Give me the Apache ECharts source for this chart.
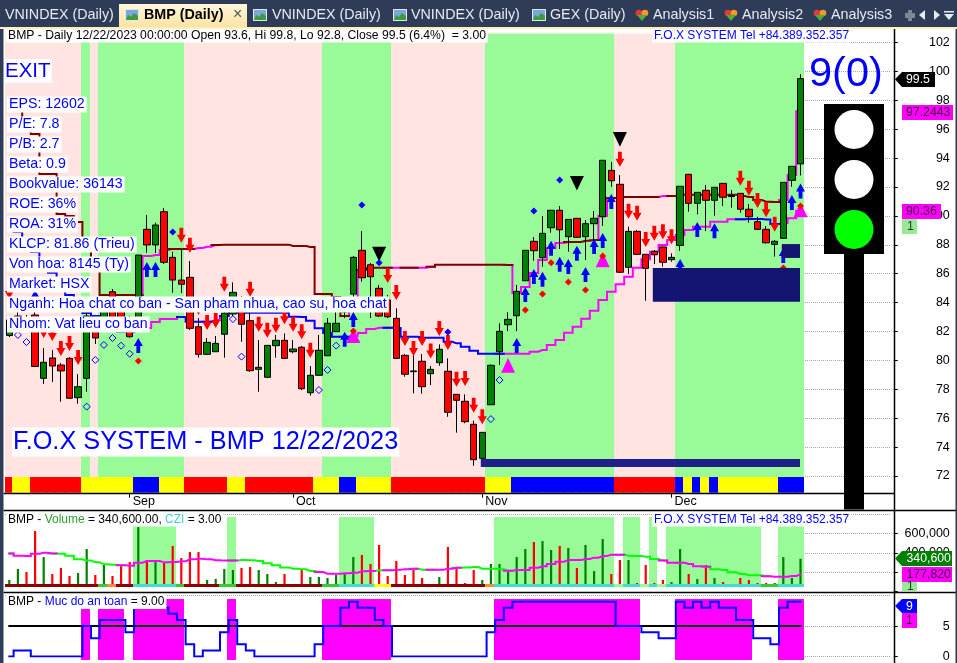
<!DOCTYPE html>
<html><head><meta charset="utf-8">
<style>html,body{margin:0;padding:0;background:#fff}#c{width:957px;height:663px}</style>
<script src="https://cdn.jsdelivr.net/npm/echarts@6/dist/echarts.min.js"></script>
</head><body><div id="c"></div>
<script>
const dates=['08-14','08-15','08-16','08-17','08-18','08-21','08-22','08-23','08-24','08-25','08-28','08-29','08-30','08-31','09-01','09-06','09-07','09-08','09-11','09-12','09-13','09-14','09-15','09-18','09-19','09-20','09-21','09-22','09-25','09-26','09-27','09-28','09-29','10-02','10-03','10-04','10-05','10-06','10-09','10-10','10-11','10-12','10-13','10-16','10-17','10-18','10-19','10-20','10-23','10-24','10-25','10-26','10-27','10-30','10-31','11-01','11-02','11-03','11-06','11-07','11-08','11-09','11-10','11-13','11-14','11-15','11-16','11-17','11-20','11-21','11-22','11-23','11-24','11-27','11-28','11-29','11-30','12-01','12-04','12-05','12-06','12-07','12-08','12-11','12-12','12-13','12-14','12-15','12-18','12-19','12-20','12-21','12-22'];
const monthNames={'09':'Sep','10':'Oct','11':'Nov','12':'Dec'};
const opens=[81.72,83.07,82.93,83.14,78.76,80.17,79.68,80.14,77.42,78.76,82.66,82.17,84.75,83.63,82.80,82.80,89.07,87.99,90.29,87.13,85.56,85.75,82.33,80.42,80.60,81.81,83.21,84.18,82.75,79.38,78.83,81.02,81.39,80.60,80.91,77.76,78.97,80.32,81.99,83.35,84.59,87.62,86.62,84.99,84.18,82.91,80.35,79.22,79.94,79.08,79.84,79.25,77.65,77.17,75.58,73.22,76.93,80.60,82.47,83.09,85.51,88.24,87.11,89.18,90.39,88.56,89.83,88.56,89.46,89.94,93.15,92.19,86.44,88.93,87.34,87.55,87.85,86.97,87.96,92.88,90.87,91.77,91.08,92.25,91.34,91.56,90.46,89.60,89.07,88.03,88.45,92.46,93.6];
const closes=[82.80,82.52,82.24,79.58,79.87,79.61,79.27,77.38,78.18,83.07,81.55,83.42,82.93,82.66,81.64,87.29,87.99,89.37,86.79,85.56,85.27,82.22,80.42,81.25,81.18,83.28,84.71,82.50,79.29,79.52,81.04,81.39,80.14,80.79,78.04,78.97,80.70,82.57,82.57,84.04,87.13,85.72,85.79,83.07,83.02,80.14,79.04,79.27,78.18,79.38,80.77,76.41,77.24,75.76,73.13,75.02,79.66,82.01,82.84,84.78,87.62,87.59,88.79,90.39,89.04,89.76,88.52,89.46,89.83,93.85,92.43,86.10,88.93,87.34,86.37,87.31,86.79,87.13,92.05,90.87,91.63,91.08,91.98,91.29,91.41,90.46,89.94,89.07,88.14,88.24,92.32,93.43,99.5];
const lows=[81.62,82.31,82.10,79.54,78.37,78.50,77.14,77.33,77.00,77.83,81.13,81.96,82.66,82.24,81.55,82.45,87.45,87.43,86.67,84.68,84.66,82.10,80.19,80.37,80.58,80.19,83.07,81.29,79.20,77.83,78.78,80.19,80.10,80.49,77.95,77.56,78.92,80.30,81.96,82.93,82.59,85.45,82.93,83.00,82.93,80.10,78.87,77.72,77.70,78.30,79.63,76.10,75.00,75.65,72.71,73.18,76.91,79.68,82.03,82.03,85.49,86.90,86.48,88.84,87.71,87.52,88.47,86.95,88.33,89.30,92.02,86.05,85.98,87.29,84.13,86.67,86.48,86.83,87.59,90.29,90.11,88.95,90.01,90.68,90.57,90.22,89.53,89.02,88.09,87.18,88.40,92.02,92.8];
const highs=[82.93,83.35,83.14,83.83,80.86,80.72,79.82,80.23,79.06,83.35,82.93,83.83,84.94,84.18,83.07,87.29,90.06,89.53,90.55,87.52,87.64,86.88,82.93,81.55,81.69,84.18,85.40,84.46,83.37,81.41,81.06,81.76,81.87,81.41,81.00,79.61,81.76,82.93,83.49,84.39,87.22,88.95,86.74,85.22,84.53,83.60,80.44,80.44,80.44,79.61,81.11,80.14,77.67,77.65,75.83,75.04,79.72,82.57,83.33,85.22,87.64,88.54,89.99,90.41,90.68,89.78,89.85,89.72,90.34,93.87,93.73,92.83,89.25,89.02,87.36,87.64,87.88,87.41,92.07,92.90,91.65,92.14,92.00,92.28,91.79,91.58,90.82,89.94,89.30,88.33,92.34,93.44,99.8];
const upperLine=[98.02,97.33,96.29,95.67,92.90,92.90,90.13,89.99,89.58,87.99,86.81,84.53,84.53,84.53,84.53,84.53,87.22,87.29,87.64,87.71,87.71,87.71,87.78,87.87,87.99,88.01,88.01,88.01,88.01,88.01,88.01,88.01,88.01,87.92,87.92,87.85,84.59,84.59,84.39,83.07,84.18,86.26,86.41,86.41,86.41,86.41,86.41,86.41,86.41,86.48,86.62,86.62,86.62,86.62,86.62,86.62,86.62,86.62,86.60,84.66,85.08,86.05,86.95,87.78,88.12,88.19,88.19,88.28,88.33,89.99,91.24,91.31,91.31,91.31,91.31,91.31,91.38,91.38,91.47,91.47,91.47,91.47,91.47,91.47,91.47,91.38,91.31,91.10,90.98,90.96,91.10,92.83,97.24];
const upperDarkRanges=[[0,15],[20,21],[25,39],[42,44],[47,47],[50,58],[66,68],[71,75],[78,89]];
const lowerLine=[89.09,88.88,87.99,87.50,86.81,86.07,85.36,84.53,83.97,83.28,83.07,82.80,82.38,81.99,81.99,82.10,82.24,82.66,82.86,82.86,83.00,82.68,82.68,82.68,82.80,83.07,83.30,83.30,83.30,83.30,83.30,83.30,83.30,83.02,83.00,82.75,82.22,81.90,81.64,81.64,81.69,81.90,82.17,82.26,82.26,82.24,81.64,81.64,81.57,81.57,81.57,81.29,81.18,80.95,80.67,80.46,80.46,80.46,80.46,80.46,80.46,80.60,80.72,81.07,81.41,81.92,82.33,82.89,83.44,84.18,84.75,85.27,85.79,86.41,87.00,87.52,87.99,88.33,88.68,89.02,89.25,89.25,89.60,89.60,89.76,89.76,89.78,89.78,89.75,89.44,89.51,89.83,90.36];
const lowerBlueRanges=[[0,14],[21,23],[26,39],[45,57],[86,89]];
const sellArrows=[[0,84.25],[4,81.55],[5,81.34],[6,80.30],[7,80.65],[8,79.68],[20,88.14],[21,87.45],[22,83.14],[23,82.10],[24,82.24],[25,84.75],[28,84.41],[29,81.99],[30,81.57],[31,81.92],[32,82.50],[33,81.99],[34,81.46],[35,80.19],[44,85.36],[45,84.18],[46,81.0],[47,80.30],[48,81.0],[49,80.14],[50,81.69],[51,80.72],[52,78.18],[53,78.23],[54,76.38],[55,75.58],[71,93.40],[72,89.81],[73,89.67],[74,87.85],[75,88.28],[76,88.38],[77,88.03],[85,92.09],[86,91.40],[87,90.55],[88,89.90],[89,88.91]];
const buyArrows=[[3,84.87],[15,81.55],[16,86.81],[17,86.81],[39,81.99],[40,83.35],[59,81.55],[60,85.08],[61,86.32],[62,86.14],[63,88.28],[64,87.18],[65,87.02],[66,87.94],[67,86.46],[68,88.40],[69,88.82],[70,91.51],[78,87.02],[80,89.58],[82,89.49],[90,87.78],[91,91.44],[92,92.25]];
const pinkTriangles=[[40,81.71],[58,79.65],[69,86.95],[92,90.41]];
const blackTriangles=[[43,87.36],[66,92.26],[71,95.29]];
const redDots=[[15,79.96],[40,82.03],[60,83.49],[62,84.59],[63,86.76],[65,85.42],[67,84.87],[69,87.22],[90,86.39],[92,90.69]];
const blueDots=[[19,88.88],[41,90.75],[43,86.76],[51,81.96],[61,90.34],[64,92.48]];
const hollowDots=[[1,81.76],[2,81.27],[9,76.80],[10,80.03],[11,81.07],[12,81.55],[13,81.02],[14,80.46],[26,82.86],[27,80.26],[36,77.95],[37,79.34],[38,81.02],[56,75.94],[57,78.64]];
const priceBoxes=[[55,92,72.62,73.18,'#20208c'],[75,92,84.06,86.39,'#141473'],[90,92,87.09,88.05,'#141473']];
const mainGreenRanges=[[9,9],[11,20],[37,44],[56,70],[78,92]];
const signalRibbon=[['r',0,0],['y',1,2],['r',3,8],['y',9,14],['b',15,17],['y',18,20],['r',21,25],['y',26,27],['r',28,35],['y',36,38],['b',39,40],['y',41,44],['r',45,55],['y',56,58],['b',59,70],['r',71,77],['b',78,78],['y',79,79],['b',80,80],['y',81,81],['b',82,82],['y',83,89],['b',90,92]];
const volume=[120000,234000,203000,628000,358000,182000,245000,162000,193000,441000,172000,276000,162000,265000,307000,669000,327000,307000,296000,473000,348000,410000,410000,120000,131000,234000,224000,245000,255000,224000,182000,99000,182000,79000,234000,151000,151000,141000,172000,182000,358000,379000,286000,483000,162000,317000,172000,224000,141000,68000,151000,462000,255000,89000,224000,120000,286000,286000,213000,358000,441000,514000,524000,431000,473000,452000,245000,483000,213000,545000,182000,327000,327000,89000,276000,89000,120000,99000,441000,182000,131000,276000,141000,99000,79000,141000,120000,89000,89000,89000,358000,141000,340600];
const volumeSide=['ggrrgrrrgg','rgrrrgrgrr','rrrggggrrg','ggrgrggggg','grrrrrrrrg','grrrrggggg','grggrgrggg','rrgrrrrggr','grgrrrrrrg','ggg'].join('');
const volumeAvg=[396000,372000,369000,393000,403000,396000,393000,372000,334000,321000,303000,283000,279000,272000,269000,300000,317000,317000,303000,307000,314000,334000,341000,334000,324000,321000,321000,327000,324000,317000,293000,272000,251000,238000,231000,213000,203000,186000,186000,189000,196000,210000,213000,220000,220000,227000,231000,238000,227000,227000,227000,238000,248000,251000,255000,238000,238000,231000,217000,224000,224000,248000,262000,286000,310000,327000,327000,338000,352000,369000,383000,383000,372000,369000,362000,338000,321000,300000,300000,286000,262000,258000,231000,224000,200000,182000,169000,169000,158000,155000,155000,162000,177820];
const volumeAvgRising=[[1,4],[5,5],[14,17],[18,23],[24,26],[37,42],[45,47],[50,52],[59,71],[77,78],[80,81],[89,92]];
const volumeGreenRanges=[[15,19],[26,26],[39,42],[57,70],[72,73],[75,75],[77,87],[90,92]];
const cziRibbon=[['d',0,10],['g',11,11],['o',12,12],['d',13,14],['t',15,19],['g',20,20],['d',21,24],['g',25,26],['d',27,36],['g',37,38],['t',39,42],['y',43,44],['d',45,55],['o',56,56],['t',57,70],['p',71,71],['t',72,73],['p',74,74],['t',75,75],['p',76,76],['t',77,87],['g',88,89],['t',90,92]];
const safety=[0,1,1,0,0,0,0,0,0,5,3,6,6,6,4,8,8,8,8,7,6,2,0,1,1,4,6,2,1,0,0,0,0,0,0,0,2,5,5,8,9,8,8,6,5,0,0,0,0,0,0,0,0,0,0,0,4,6,8,9,9,9,9,9,9,9,9,9,9,9,9,5,5,5,4,4,3,3,9,8,9,8,9,8,8,6,6,3,3,2,8,9,9];
const safetyLevel=dates.map(()=>5);
const safetyZoneRanges=[[9,9],[11,13],[15,20],[26,26],[37,44],[57,73],[78,86],[90,92]];

const PAD=10,BAND=8.6,LEFT=5;
const cats=dates.concat(Array(PAD).fill(''));
const W=(dates.length+PAD)*BAND;
const PINK='#ffe4e1',GREEN='#98fb98',MAG='#ff00ff';
const inR=(i,rs)=>rs.some(r=>i>=r[0]&&i<=r[1]);
const F='"Liberation Sans", Arial, sans-serif';

const palette={r:'#ff0000',y:'#ffff00',b:'#0000ff',d:'#8b0000',g:'#32cd32',o:'#ff8c32',t:'#40e0d0',p:'#98fb98'};
function fromRanges(rs){const a=[];rs.forEach(r=>{for(let i=r[1];i<=r[2];i++)a[i]=r[0];});return a;}
function bandSeries(grid,fn,z){return {type:'custom',xAxisIndex:grid,yAxisIndex:grid,z:z,silent:true,clip:false,encode:{x:0,y:1},
  data:dates.map((d,i)=>[i,1]),
  renderItem:(p,api)=>{const i=api.value(0),b=api.coord([i,0]),t=api.coord([i,1]),w=api.size([1,0])[0];
    const x0=Math.max(5,Math.round(b[0]-w/2-1.3)),x1=Math.round(b[0]+w/2-1.3);
    const overlap=i<dates.length-1?1:0;
    return {type:'rect',shape:{x:x0,y:t[1],width:x1-x0+overlap,height:b[1]-t[1]},style:{fill:fn(i)}};}};}
function split(vals,rs,inside){return vals.map((v,i)=>(inR(i,rs)===inside||(i<vals.length-1&&inR(i+1,rs)===inside))?[i,v]:[i,null]);}
function lineS(grid,data,color,z,w){return {type:'line',xAxisIndex:grid,yAxisIndex:grid,step:'middle',showSymbol:false,symbol:'none',z:z,silent:true,lineStyle:{color:color,width:w||2,cap:'square',join:'miter'},data:data,connectNulls:false};}
function scatter(data,symbol,size,color,z,extra){return Object.assign({type:'scatter',xAxisIndex:1,yAxisIndex:1,symbol:symbol,symbolSize:size,z:z,silent:true,itemStyle:{color:color,opacity:1},data:data},extra||{});}

const grids=[
 {top:33,height:444},{top:13.6,height:462.4},{top:477,height:15.7},
 {top:517,height:70},{top:514.4,height:77.2},{top:584,height:3},
 {top:599,height:61},{top:595.6,height:62.7}
].map(g=>Object.assign({left:LEFT,width:W,containLabel:false,show:false},g));
const hiddenX=()=>({type:'category',data:cats,axisLine:{show:false},axisTick:{show:false},axisLabel:{show:false},splitLine:{show:false},boundaryGap:true});
const xAxes=grids.map((g,i)=>Object.assign(hiddenX(),{gridIndex:i}));
const isMonth=(idx)=>idx>0&&idx<dates.length&&cats[idx].slice(0,2)!==cats[idx-1].slice(0,2);
xAxes[2]={gridIndex:2,type:'category',data:cats,axisLine:{show:false},
 axisTick:{show:true,alignWithLabel:true,length:5,lineStyle:{color:'#000'},interval:(i)=>isMonth(i)},
 axisLabel:{show:true,interval:(i)=>isMonth(i),align:'left',margin:2,padding:[0,0,0,3],fontFamily:F,fontSize:12.5,color:'#000',
   formatter:(v)=>monthNames[v.slice(0,2)]||''},splitLine:{show:false}};
const hiddenY=(i,min,max)=>({gridIndex:i,type:'value',min:min,max:max,show:false,splitLine:{show:false}});
const dotted={show:true,lineStyle:{color:'#a8a8a8',type:'dotted',width:1}};
const valY=(i,min,max,interval,fmt,margin)=>({gridIndex:i,type:'value',position:'right',offset:3,min:min,max:max,interval:interval,
  axisLine:{show:false},axisTick:{show:true,length:4,lineStyle:{color:'#000'}},splitLine:dotted,
  axisLabel:{show:true,showMaxLabel:false,align:'right',margin:margin,fontFamily:F,fontSize:12.5,color:'#000',formatter:fmt}});
const yAxes=[
 hiddenY(0,0,1),
 valY(1,72,104,2,(v)=>String(v),56),
 hiddenY(2,0,1),
 hiddenY(3,0,1),
 valY(4,0,800000,200000,(v)=>v===0?'':v.toLocaleString('en-US'),56),
 hiddenY(5,0,1),
 hiddenY(6,0,1),
 valY(7,0,10,5,(v)=>String(v),56)
];

const downArrow='path://M2.6,0 L6.4,0 L6.4,7 L9,7 L4.5,15 L0,7 L2.6,7 Z';
const upArrow='path://M4.5,0 L9,8 L6.4,8 L6.4,15 L2.6,15 L2.6,8 L0,8 Z';
const ribbonCodes=fromRanges(signalRibbon), cziCodes=fromRanges(cziRibbon);

const series=[
 bandSeries(0,i=>inR(i,mainGreenRanges)?GREEN:PINK,1),
 lineS(1,split(upperLine,upperDarkRanges,false),MAG,3),
 lineS(1,split(upperLine,upperDarkRanges,true),'#800000',3),
 lineS(1,split(lowerLine,lowerBlueRanges,false),MAG,3),
 lineS(1,split(lowerLine,lowerBlueRanges,true),'#0000ff',3),
 {type:'candlestick',xAxisIndex:1,yAxisIndex:1,z:4,silent:true,barWidth:7,
  itemStyle:{color:'#008000',color0:'#ff0000',borderColor:'#000',borderColor0:'#000',borderWidth:1},
  data:dates.map((d,i)=>[opens[i],closes[i],lows[i],highs[i]])},
 scatter(hollowDots,'diamond',7,'rgba(0,0,0,0)',5,{itemStyle:{color:'rgba(0,0,0,0)',borderColor:'#0000ff',borderWidth:1,opacity:1}}),
 scatter(pinkTriangles,'triangle',[14,14.7],MAG,5),
 scatter(blackTriangles,'triangle',[14,14.7],'#000',5,{symbolRotate:180}),
 scatter(sellArrows,downArrow,[9,15],'#ff0000',6,{symbolOffset:[0,'-50%'],symbolKeepAspect:false}),
 scatter(buyArrows,upArrow,[9,15],'#0000ff',6,{symbolOffset:[0,'50%'],symbolKeepAspect:false}),
 scatter(redDots,'diamond',7,'#ff0000',7),
 scatter(blueDots,'diamond',7,'#0000ff',7),
 {type:'custom',xAxisIndex:1,yAxisIndex:1,z:8,silent:true,clip:false,data:priceBoxes,
  renderItem:(p,api)=>{const a=api.coord([api.value(0),api.value(3)]),b=api.coord([api.value(1),api.value(2)]);
    return {type:'rect',shape:{x:a[0]-1.5,y:a[1],width:b[0]-a[0]+1,height:b[1]-a[1]},style:{fill:priceBoxes[p.dataIndex][4]}};}},
 bandSeries(2,i=>palette[ribbonCodes[i]],2),
 bandSeries(3,i=>inR(i,volumeGreenRanges)?GREEN:'#ffffff',1),
 {type:'bar',xAxisIndex:4,yAxisIndex:4,barWidth:2.2,z:3,silent:true,
  data:volume.map((v,i)=>({value:v,itemStyle:{color:volumeSide[i]==='g'?'#008000':'#ff0000'}}))},
 lineS(4,split(volumeAvg,volumeAvgRising,false),'#00ff00',4),
 lineS(4,split(volumeAvg,volumeAvgRising,true),MAG,4),
 bandSeries(5,i=>palette[cziCodes[i]],5),
 bandSeries(6,i=>inR(i,safetyZoneRanges)?MAG:'#ffffff',1),
 lineS(7,safetyLevel.map((v,i)=>[i,v]),'#000',3),
 lineS(7,safety.map((v,i)=>[i,v]),'#0000ff',4)
];

// ---- page furniture ----
const Z=40;
const rect=(x,y,w,h,fill,z)=>({type:'rect',shape:{x,y,width:w,height:h},style:{fill},z:z||Z,silent:true});
const txt=(x,y,text,size,fill,extra)=>({type:'text',x,y,z:(extra&&extra.z)||Z+3,silent:true,style:Object.assign({text,fill,font:size+'px '+F,verticalAlign:'middle',align:'left'},extra&&extra.style||{})});
const lab=(x,y,text,size,opt)=>txt(x,y,text,size,(opt&&opt.fill)||'#0000ff',{style:{backgroundColor:(opt&&opt.bg)||'#fff',padding:(opt&&opt.pad)||[1,2,1,2],align:(opt&&opt.align)||'left'}});
const poly=(pts,fill,z)=>({type:'polygon',shape:{points:pts},style:{fill},z:z||Z+2,silent:true});
const vline=(x,y1,y2,c,w)=>({type:'line',shape:{x1:x,y1,x2:x,y2},style:{stroke:c||'#000',lineWidth:w||1},z:Z+1,silent:true});
const hline=(y,x1,x2,c,w)=>({type:'line',shape:{x1,y1:y,x2,y2:y},style:{stroke:c||'#000',lineWidth:w||1},z:Z+1,silent:true});
function chartIcon(x,y){return [rect(x,y,14,12,'#dfe8f5',Z+5),rect(x+1,y+1,12,10,'#7aa7d8',Z+5),poly([[x+1,y+11],[x+3,y+6],[x+6,y+8],[x+9,y+4],[x+13,y+7],[x+13,y+11]],'#3f9a3a',Z+6)];}
function heartIcon(x,y){return [
 {type:'circle',shape:{cx:x+4,cy:y+4,r:3.3},style:{fill:'#e23a3a'},z:Z+5,silent:true},
 {type:'circle',shape:{cx:x+10,cy:y+4,r:3.3},style:{fill:'#f09a2c'},z:Z+5,silent:true},
 poly([[x+2,y+6],[x+12,y+6],[x+7,y+12]],'#4caf3a',Z+5)];}
const TAB='#2e3c58',TABT='#e6ebf2';
const tabFill={type:'linear',x:0,y:0,x2:0,y2:1,colorStops:[{offset:0,color:'#fff6da'},{offset:1,color:'#fbe3a4'}]};
const TF=14.3;
const tagText=(x,y,text,fill)=>txt(x,y,text,12.3,fill);
const furniture=[
 rect(0,0,957,27,TAB,Z+4),rect(0,27,957,2,'#fdeebc',Z+4),rect(0,29,3.5,634,TAB,Z+4),rect(955.5,29,1.5,634,TAB,Z+4),
 rect(3.5,29,952,4.5,'#fff',Z),
 rect(119,4,128,23,tabFill,Z+4),
 txt(5,15,'VNINDEX (Daily)',TF,TABT,{z:Z+6}),
 txt(144,15,'BMP (Daily)',TF,'#000',{z:Z+6,style:{font:'bold '+TF+'px '+F}}),
 txt(233,15,'×',16,'#555',{z:Z+6}),
 txt(272,15,'VNINDEX (Daily)',TF,TABT,{z:Z+6}),
 txt(411,15,'VNINDEX (Daily)',TF,TABT,{z:Z+6}),
 txt(550,15,'GEX (Daily)',TF,TABT,{z:Z+6}),
 txt(653,15,'Analysis1',TF,TABT,{z:Z+6}),
 txt(742,15,'Analysis2',TF,TABT,{z:Z+6}),
 txt(831,15,'Analysis3',TF,TABT,{z:Z+6}),
 ...chartIcon(125,9),...chartIcon(253,9),...chartIcon(393,9),...chartIcon(532,9),
 ...heartIcon(635,9),...heartIcon(724,9),...heartIcon(813,9),
 poly([[925,10],[925,20],[919,15]],'#e6ebf2',Z+5),poly([[934,10],[934,20],[940,15]],'#e6ebf2',Z+5),
 rect(944,11,10,1.5,'#e6ebf2',Z+5),poly([[944,14],[954,14],[949,20]],'#e6ebf2',Z+5),
 rect(905,13,10,5,'#7d8798',Z+5),rect(908,10,4,11,'#7d8798',Z+5),

 rect(5,587,885,5,'#fff',Z),
 hline(493.5,3.5,894,'#000',1.5),hline(510.5,3.5,956,'#000',1.5),hline(592.5,3.5,956,'#000',1.5),
 vline(894.5,29,663,'#000',1.5),

 // traffic light
 rect(844,254,20,255.5,'#000',Z+1),rect(824,104,60,150,'#000',Z+1),
 {type:'circle',shape:{cx:854,cy:129.5,r:19.5},style:{fill:'#fff'},z:Z+2,silent:true},
 {type:'circle',shape:{cx:854,cy:179.5,r:19.5},style:{fill:'#fff'},z:Z+2,silent:true},
 {type:'circle',shape:{cx:854,cy:229.5,r:19.5},style:{fill:'#00ff00'},z:Z+2,silent:true},
 txt(809,75,'9(0)',41.5,'#0000ff'),

 // header texts
 lab(6,36,'BMP - Daily 12/22/2023 00:00:00 Open 93.6, Hi 99.8, Lo 92.8, Close 99.5 (6.4%)  = 3.00',12.2,{fill:'#000',pad:[0,2,1,2]}),
 lab(652,36,'F.O.X SYSTEM Tel +84.389.352.357',12,{pad:[0,2,1,2]}),
 lab(4,71,'EXIT',20.5,{pad:[2,1,1,1]}),
 lab(7,104.5,'EPS: 12602',14.2),lab(7,124.5,'P/E: 7.8',14.2),lab(7,144.5,'P/B: 2.7',14.2),lab(7,164.5,'Beta: 0.9',14.2),
 lab(7,184.5,'Bookvalue: 36143',14.2),lab(7,204.5,'ROE: 36%',14.2),lab(7,224.5,'ROA: 31%',14.2),
 lab(7,244.5,'KLCP: 81.86 (Trieu)',14.2),lab(7,264.5,'Von hoa: 8145 (Ty)',14.2),lab(7,284.5,'Market: HSX',14.2),
 lab(7,304.5,'Nganh: Hoa chat co ban - San pham nhua, cao su, hoa chat',14.2),
 lab(7,324.5,'Nhom: Vat lieu co ban',14.2),
 lab(12,442,'F.O.X SYSTEM - BMP 12/22/2023',25.3,{pad:[2,1,2,1]}),

 // price tags
 poly([[895,79.3],[902,72],[902,87]],'#000'),rect(902,72,33,15,'#000',Z+2),tagText(906,79.5,'99.5','#fff'),
 rect(902,105,51,15,MAG,Z+2),tagText(906,112.7,'97.2443','#400040'),
 rect(902,204,39,15,MAG,Z+2),tagText(906,211.7,'90.36','#400040'),
 rect(902,219,15,15,'#98e898',Z+2),tagText(907,226.7,'1','#204020'),

 // volume pane
 {type:'text',x:6,y:520,z:Z+3,silent:true,style:{text:'{k|BMP - }{g|Volume}{k| = 340,600.00, }{t|CZI}{k| = 3.00}',font:'12px '+F,verticalAlign:'middle',backgroundColor:'#fff',padding:[0,2,1,2],
   rich:{k:{fill:'#000',font:'12px '+F},g:{fill:'#2e9c2e',font:'12px '+F},t:{fill:'#40d0d0',font:'12px '+F}}}},
 lab(652,520,'F.O.X SYSTEM Tel +84.389.352.357',12,{pad:[0,2,1,2]}),
 poly([[895,558.5],[902,551],[902,566]],'#008000'),rect(902,551,50,15,'#008000',Z+2),
 tagText(906.5,558.7,'340,600','#fff'),
 rect(902,567,50,15,MAG,Z+2),tagText(906.5,574.7,'177,820','#400040'),
 rect(902,582,15,9,'#98e898',Z+2),txt(907,587,'1',12,'#204020'),

 // safety pane
 {type:'text',x:6,y:602,z:Z+3,silent:true,style:{text:'{k|BMP - }{b|Muc do an toan}{k| = 9.00}',font:'12px '+F,verticalAlign:'middle',backgroundColor:'#fff',padding:[1,2,1,2],
   rich:{k:{fill:'#000',font:'12px '+F},b:{fill:'#0000ff',font:'12px '+F}}}},
 poly([[895,606],[902,599],[902,613]],'#0000ff'),rect(902,599,15,14,'#0000ff',Z+2),tagText(906,606.2,'9','#fff'),
 rect(902,613,15,15,MAG,Z+2),tagText(906,620.7,'1','#400040')
];

const chart=echarts.init(document.getElementById('c'),null,{renderer:'canvas'});
chart.setOption({animation:false,backgroundColor:'#ffffff',grid:grids,xAxis:xAxes,yAxis:yAxes,series:series,
  graphic:{elements:furniture}});
</script></body></html>
